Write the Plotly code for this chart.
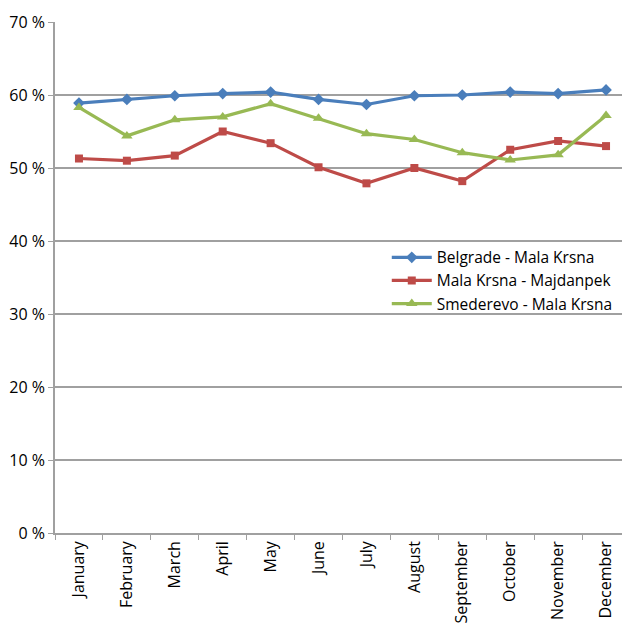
import plotly.graph_objects as go

months = ["January", "February", "March", "April", "May", "June", "July",
          "August", "September", "October", "November", "December"]
belgrade = [58.9, 59.4, 59.9, 60.2, 60.4, 59.4, 58.7, 59.9, 60.0, 60.4, 60.2, 60.7]
majdanpek = [51.3, 51.0, 51.7, 55.0, 53.4, 50.1, 47.9, 50.0, 48.2, 52.5, 53.7, 53.0]
smederevo = [58.3, 54.4, 56.6, 57.0, 58.8, 56.8, 54.7, 53.9, 52.1, 51.1, 51.8, 57.2]
y_ticks = [0, 10, 20, 30, 40, 50, 60, 70]
y_labels = [f"{v} %" for v in y_ticks]

font = "Open Sans, Liberation Sans, sans-serif"

fig = go.Figure()
fig.add_trace(go.Scatter(x=months, y=belgrade, name="Belgrade - Mala Krsna",
                         mode="lines+markers",
                         line=dict(color="#4a7ebb", width=3.2),
                         marker=dict(symbol="diamond", size=9, color="#4a7ebb")))
fig.add_trace(go.Scatter(x=months, y=majdanpek, name="Mala Krsna - Majdanpek",
                         mode="lines+markers",
                         line=dict(color="#be4b48", width=3.2),
                         marker=dict(symbol="square", size=8, color="#be4b48")))
fig.add_trace(go.Scatter(x=months, y=smederevo, name="Smederevo - Mala Krsna",
                         mode="lines+markers",
                         line=dict(color="#98b954", width=3.2),
                         marker=dict(symbol="triangle-up", size=10, color="#98b954")))

fig.update_layout(
    width=622, height=615,
    margin=dict(l=47, r=0, t=14, b=90),
    paper_bgcolor="white", plot_bgcolor="white",
    font=dict(family=font, size=15, color="black"),
    showlegend=True,
    legend=dict(x=0.577, y=0.572, xanchor="left", yanchor="top",
                bgcolor="rgba(255,255,255,0)", font=dict(size=15.5, family=font),
                tracegroupgap=0, itemwidth=40),
)
fig.update_xaxes(
    type="category", tickangle=-90, tickson="boundaries",
    ticks="outside", ticklen=5, tickcolor="#a0a0a0",
    showline=True, linecolor="#a0a0a0", linewidth=1.5,
    showgrid=False, tickfont=dict(size=16, family=font),
    range=[-0.5, 11.5], automargin=False,
)
fig.update_yaxes(
    range=[0, 70], tickvals=y_ticks, ticktext=y_labels,
    showgrid=True, gridcolor="#a0a0a0", gridwidth=1.5,
    showline=True, linecolor="#a0a0a0", linewidth=1.5,
    ticks="outside", ticklen=5, tickcolor="#a0a0a0",
    zeroline=False, tickfont=dict(size=16, family=font), automargin=False,
)

fig.write_html("out.html")
